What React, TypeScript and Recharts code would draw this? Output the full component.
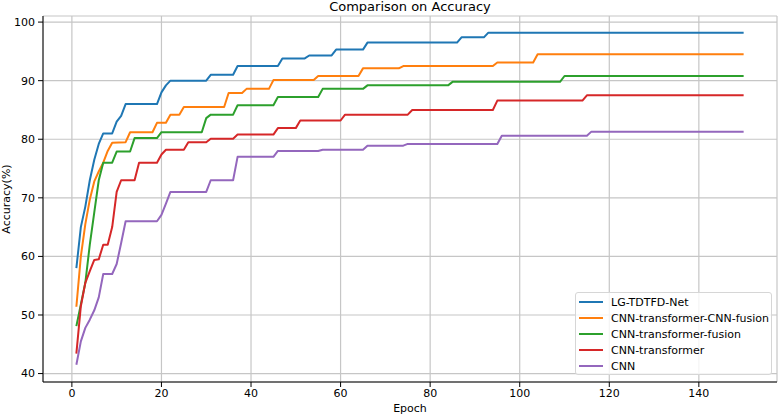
import React from 'react';
import { LineChart, Line, XAxis, YAxis, CartesianGrid } from 'recharts';

// accuracy per epoch, [epoch, accuracy %] at each point where the curve changes
const lgTdtfdNet: [number, number][] = [
  [1, 58], [2, 65], [3, 68.5], [4, 73], [5, 76.5], [6, 79.2], [7, 81], [9, 81],
  [10, 83], [11, 84], [12, 86], [19, 86], [20, 88], [21, 89.2], [22, 90], [30, 90],
  [31, 91], [36, 91], [37, 92.5], [46, 92.5], [47, 93.8], [52, 93.8], [53, 94.3],
  [58, 94.3], [59, 95.3], [65, 95.3], [66, 96.5], [86, 96.5], [87, 97.4], [92, 97.4],
  [93, 98.2], [150, 98.2],
];

const cnnTransCnnFusion: [number, number][] = [
  [1, 51.4], [2, 60], [3, 65.5], [4, 69.7], [5, 72.8], [6, 74.5], [7, 76], [8, 78],
  [9, 79.4], [12, 79.5], [13, 81.2], [18, 81.2], [19, 82.8], [21, 82.8], [22, 84.2],
  [24, 84.2], [25, 85.5], [34, 85.5], [35, 87.9], [38, 87.9], [39, 88.6], [44, 88.6],
  [45, 90.1], [54, 90.1], [55, 90.8], [64, 90.8], [65, 92.1], [73, 92.1], [74, 92.5],
  [94, 92.5], [95, 93.1], [103, 93.1], [104, 94.5], [150, 94.5],
];

const cnnTransFusion: [number, number][] = [
  [1, 48.1], [2, 51.8], [3, 55.5], [4, 62], [5, 67.5], [6, 73], [7, 76], [9, 76],
  [10, 77.9], [13, 77.9], [14, 80.2], [19, 80.2], [20, 81.2], [29, 81.2], [30, 83.6],
  [31, 84.2], [36, 84.2], [37, 85.8], [45, 85.8], [46, 87.2], [55, 87.2], [56, 88.6],
  [65, 88.6], [66, 89.2], [84, 89.2], [85, 89.8], [109, 89.8], [110, 90.8], [150, 90.8],
];

const cnnTransformer: [number, number][] = [
  [1, 43.4], [2, 51.5], [3, 55.5], [4, 57.5], [5, 59.4], [6, 59.5], [7, 62], [8, 62],
  [9, 65], [10, 71], [11, 73], [14, 73], [15, 76], [19, 76], [20, 77.4], [21, 78.2],
  [25, 78.2], [26, 79.5], [30, 79.5], [31, 80.1], [36, 80.1], [37, 80.8], [45, 80.8],
  [46, 81.9], [50, 81.9], [51, 83.2], [60, 83.2], [61, 84.2], [75, 84.2], [76, 85],
  [94, 85], [95, 86.6], [114, 86.6], [115, 87.5], [150, 87.5],
];

const cnn: [number, number][] = [
  [1, 41.5], [2, 45.5], [3, 47.8], [4, 49.2], [5, 50.8], [6, 53], [7, 57], [9, 57],
  [10, 58.7], [11, 62.3], [12, 66], [19, 66], [20, 67.1], [21, 69], [22, 71], [30, 71],
  [31, 73], [36, 73], [37, 77], [45, 77], [46, 78], [55, 78], [56, 78.2], [65, 78.2],
  [66, 78.9], [74, 78.9], [75, 79.2], [95, 79.2], [96, 80.6], [115, 80.6], [116, 81.3],
  [150, 81.3],
];

const xTicks = [0, 20, 40, 60, 80, 100, 120, 140];
const yTicks = [40, 50, 60, 70, 80, 90, 100];

const series = [
  { name: 'LG-TDTFD-Net', color: '#1f77b4', points: lgTdtfdNet },
  { name: 'CNN-transformer-CNN-fusion', color: '#ff7f0e', points: cnnTransCnnFusion },
  { name: 'CNN-transformer-fusion', color: '#2ca02c', points: cnnTransFusion },
  { name: 'CNN-transformer', color: '#d62728', points: cnnTransformer },
  { name: 'CNN', color: '#9467bd', points: cnn },
];

const X_DOMAIN = [-6.45, 157.45];
const Y_DOMAIN = [38.56, 101.04];

const FONT = '"DejaVu Sans", sans-serif';
const textStyle = { fontSize: 11, fill: '#000', fontFamily: FONT };

export default function App() {
  return (
    <div style={{ position: 'absolute', left: 0, top: 0, width: 778, height: 415, background: '#fff', fontFamily: FONT }}>
      <div style={{ position: 'absolute', left: 43, width: 734, top: 0, textAlign: 'center', fontSize: 13, lineHeight: '13px' }}>
        Comparison on Accuracy
      </div>
      <LineChart width={778} height={415} margin={{ top: 16, right: 1, bottom: 0, left: 0 }}>
        <CartesianGrid xAxisId="main" yAxisId="main" stroke="#c6c6c6" strokeWidth={1.2} />
        <XAxis
          xAxisId="main"
          dataKey="epoch"
          type="number"
          domain={X_DOMAIN}
          ticks={xTicks}
          allowDataOverflow
          height={33}
          tick={textStyle}
          tickSize={5}
          tickMargin={2}
          stroke="#000"
          tickLine={{ stroke: '#000' }}
          label={{ value: 'Epoch', position: 'insideBottom', offset: 3, style: textStyle }}
        />
        <XAxis xAxisId="top" orientation="top" type="number" domain={X_DOMAIN} height={0} tick={false} tickLine={false} stroke="#000" />
        <YAxis
          yAxisId="main"
          type="number"
          domain={Y_DOMAIN}
          ticks={yTicks}
          allowDataOverflow
          width={43}
          tick={textStyle}
          tickSize={5}
          tickMargin={3}
          stroke="#000"
          tickLine={{ stroke: '#000' }}
          label={{ value: 'Accuracy(%)', angle: -90, position: 'insideLeft', offset: 6, style: { ...textStyle, textAnchor: 'middle' } }}
        />
        <YAxis yAxisId="right" orientation="right" type="number" domain={Y_DOMAIN} width={0} tick={false} tickLine={false} stroke="#000" />
        {series.map((s) => (
          <Line
            key={s.name}
            xAxisId="main"
            yAxisId="main"
            data={s.points.map(([epoch, acc]) => ({ epoch, acc }))}
            dataKey="acc"
            name={s.name}
            stroke={s.color}
            strokeWidth={2}
            strokeLinejoin="round"
            dot={false}
            isAnimationActive={false}
          />
        ))}
      </LineChart>
      <div
        style={{
          position: 'absolute', left: 575, top: 292, width: 197, height: 83,
          border: '1px solid #d6d6d6', borderRadius: 3, background: 'rgba(255,255,255,0.8)',
          fontSize: 11, boxSizing: 'border-box', paddingTop: 1,
        }}
      >
        {series.map((s) => (
          <div key={s.name} style={{ display: 'flex', alignItems: 'center', height: 16 }}>
            <span style={{ display: 'inline-block', width: 24, height: 2, background: s.color, marginLeft: 3, marginRight: 8 }} />
            <span>{s.name}</span>
          </div>
        ))}
      </div>
    </div>
  );
}
